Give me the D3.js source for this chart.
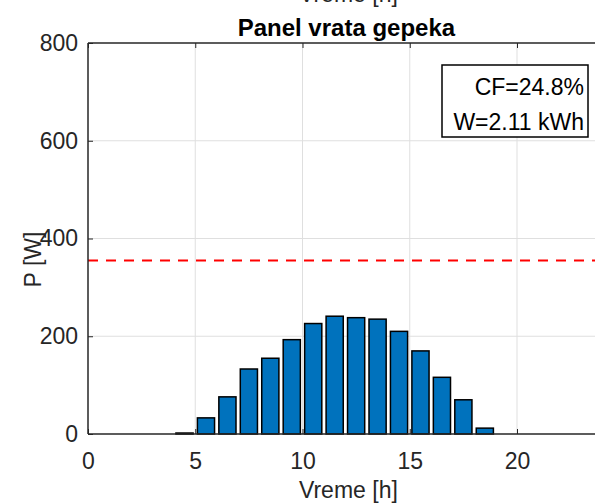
<!DOCTYPE html>
<html>
<head>
<meta charset="utf-8">
<script src="https://cdn.jsdelivr.net/npm/d3@7"></script>
<style>
  html, body { margin: 0; padding: 0; background: #fff; }
  svg { display: block; }
  text { font-family: "Liberation Sans", Arial, Helvetica, sans-serif; }
</style>
</head>
<body>
<svg id="chart" width="595" height="503"></svg>
<script>
// Hourly output of the panel (hour centre, W)
const hours = [0.5, 1.5, 2.5, 3.5, 4.5, 5.5, 6.5, 7.5, 8.5, 9.5, 10.5, 11.5,
               12.5, 13.5, 14.5, 15.5, 16.5, 17.5, 18.5, 19.5, 20.5, 21.5, 22.5, 23.5];
const power = [0, 0, 0, 0, 2, 33, 76, 133, 155, 193, 226, 241,
               238, 235, 210, 170, 116, 70, 12, 0, 0, 0, 0, 0];
const ratedPower = [355];
const xTicks = [0, 5, 10, 15, 20];
const yTicks = [0, 200, 400, 600, 800];
const infoLines = ["CF=24.8%", "W=2.11 kWh"];
const titleText = "Panel vrata gepeka";
const xLabelText = "Vreme [h]";
const yLabelText = "P [W]";

const svg = d3.select("#chart");
const axisColor = "#262626";
const fontSize = 23;

const x = d3.scaleLinear().domain([0, 24]).range([88, 88 + 24 * 21.45]);
const y = d3.scaleLinear().domain([0, 800]).range([434, 43]);

// x label of the subplot above, mostly cut off by the top edge
svg.append("text")
  .attr("x", x(12) + 3).attr("y", 1.5)
  .attr("text-anchor", "middle")
  .attr("font-size", fontSize).attr("fill", axisColor)
  .text(xLabelText);

// grid
const grid = svg.append("g").attr("stroke", "#dfdfdf").attr("stroke-width", 1);
grid.selectAll(".gx").data(xTicks.filter(d => d > 0)).join("line")
  .attr("x1", d => x(d)).attr("x2", d => x(d))
  .attr("y1", y(0)).attr("y2", y(800));
grid.selectAll(".gy").data(yTicks.filter(d => d > 0 && d < 800)).join("line")
  .attr("y1", d => y(d)).attr("y2", d => y(d))
  .attr("x1", x(0)).attr("x2", x(24));

// bars
const bw = 0.8;
svg.append("g").selectAll("rect").data(hours).join("rect")
  .attr("x", (d) => x(d - bw / 2))
  .attr("width", x(bw) - x(0))
  .attr("y", (d, i) => y(power[i]))
  .attr("height", (d, i) => y(0) - y(power[i]))
  .attr("fill", "#0072BD")
  .attr("stroke", "#000")
  .attr("stroke-width", 1.5);

// rated power line
svg.append("g").selectAll("line").data(ratedPower).join("line")
  .attr("x1", x(0)).attr("x2", x(24))
  .attr("y1", d => y(d)).attr("y2", d => y(d))
  .attr("stroke", "#ff0000").attr("stroke-width", 2)
  .attr("stroke-dasharray", "10,8");

// axes
const axX = d3.axisBottom(x).tickValues(xTicks).tickSize(-5).tickPadding(19).tickFormat(d3.format("d"));
const axY = d3.axisLeft(y).tickValues(yTicks).tickSize(-5).tickPadding(10).tickFormat(d3.format("d"));
const axTop = d3.axisTop(x).tickValues(xTicks).tickSize(-5).tickFormat("");

const gx = svg.append("g").attr("transform", `translate(0,${y(0)})`).call(axX);
const gy = svg.append("g").attr("transform", `translate(${x(0)},0)`).call(axY);
const gt = svg.append("g").attr("transform", `translate(0,${y(800)})`).call(axTop);
[gx, gy, gt].forEach(g => {
  g.selectAll("path").attr("stroke", axisColor).attr("stroke-width", 1.5);
  g.selectAll("line").attr("stroke", axisColor).attr("stroke-width", 1);
  g.selectAll("text").attr("fill", axisColor).attr("font-size", fontSize)
    .style("font-family", '"Liberation Sans", Arial, sans-serif');
});
gx.selectAll("path").attr("d", `M${x(0)},0H${x(24)}`);
gy.selectAll("path").attr("d", `M0,${y(0)}V${y(800)}`);
gt.selectAll("path").attr("d", `M${x(0)},0H${x(24)}`);

// title and axis labels
svg.append("text")
  .attr("x", x(12) + 1).attr("y", 36)
  .attr("text-anchor", "middle")
  .attr("font-size", 24).attr("font-weight", "bold").attr("fill", "#000")
  .text(titleText);

svg.append("text")
  .attr("x", x(12) + 3).attr("y", 498)
  .attr("text-anchor", "middle")
  .attr("font-size", fontSize).attr("fill", axisColor)
  .text(xLabelText);

svg.append("text")
  .attr("transform", `translate(41,${y(400) + 21}) rotate(-90)`)
  .attr("text-anchor", "middle")
  .attr("font-size", fontSize).attr("fill", axisColor)
  .text(yLabelText);

// info box
const box = svg.append("g");
box.append("rect")
  .attr("x", 442).attr("y", 65).attr("width", 146).attr("height", 72)
  .attr("fill", "#fff").attr("stroke", "#000").attr("stroke-width", 1.5);
box.selectAll("text").data(infoLines).join("text")
  .attr("x", 584).attr("y", (d, i) => 95 + i * 35)
  .attr("text-anchor", "end")
  .attr("font-size", fontSize).attr("fill", "#000")
  .text(d => d);
</script>
</body>
</html>
